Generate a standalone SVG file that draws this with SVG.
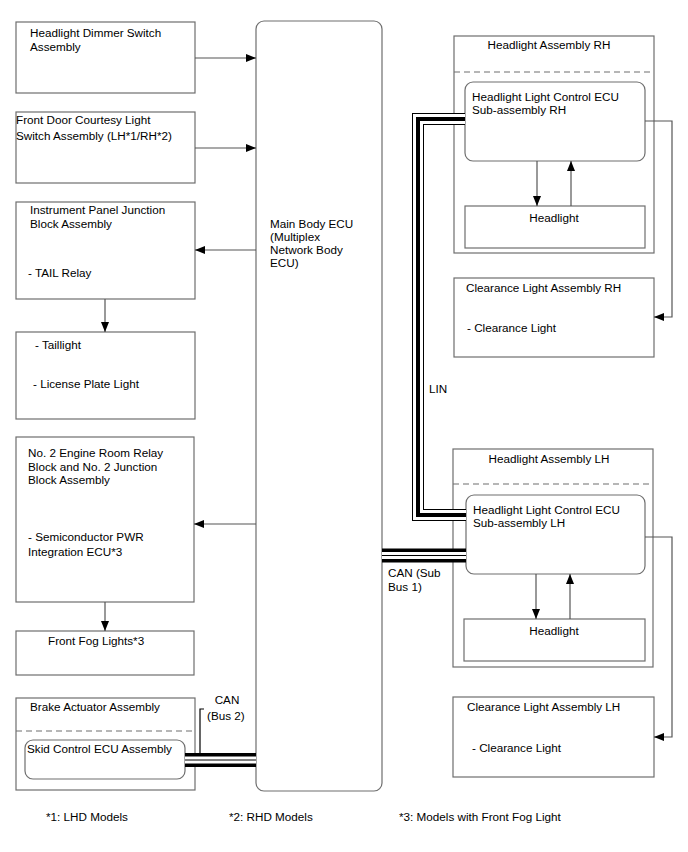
<svg xmlns="http://www.w3.org/2000/svg" width="688" height="852" viewBox="0 0 688 852">
<defs>
<marker id="ah" markerUnits="userSpaceOnUse" markerWidth="10" markerHeight="8" refX="10" refY="4" orient="auto">
<path d="M0,0 L10,4 L0,8 z" fill="#000"/>
</marker>
<style>
text{font-family:"Liberation Sans",Arial,sans-serif;font-size:11.7px;fill:#000}
.c{text-anchor:middle}
.box{fill:#fff;stroke:#6e6e6e;stroke-width:1.2}
.dash{fill:none;stroke:#6e6e6e;stroke-width:1.2;stroke-dasharray:6,4}
.ln{fill:none;stroke:#555;stroke-width:1.2}
.arr{fill:none;stroke:#555;stroke-width:1.2;marker-end:url(#ah)}
.bk{fill:none;stroke:#000}
.wh{fill:none;stroke:#fff}
</style>
</defs>
<rect width="688" height="852" fill="#fff"/>

<g id="dimmer"><rect class="box" x="16" y="22" width="179" height="71"/><text x="30" y="37">Headlight Dimmer Switch</text><text x="30" y="51">Assembly</text></g>
<g id="courtesy"><rect class="box" x="16" y="112" width="179" height="71"/><text x="16" y="124">Front Door Courtesy Light</text><text x="16" y="140">Switch Assembly (LH*1/RH*2)</text></g>
<g id="ipjb"><rect class="box" x="16" y="202" width="179" height="97"/><text x="30" y="214">Instrument Panel Junction</text><text x="30" y="228">Block Assembly</text><text x="28" y="277">- TAIL Relay</text></g>
<g id="taillight"><rect class="box" x="16" y="332" width="179" height="87"/><text x="35" y="349">- Taillight</text><text x="33" y="388">- License Plate Light</text></g>
<g id="no2relay"><rect class="box" x="16" y="437" width="178" height="165"/><text x="28" y="457">No. 2 Engine Room Relay</text><text x="28" y="471">Block and No. 2 Junction</text><text x="28" y="484">Block Assembly</text><text x="28" y="541">- Semiconductor PWR</text><text x="28" y="556">Integration ECU*3</text></g>
<g id="foglights"><rect class="box" x="16" y="631" width="178" height="44"/><text x="48" y="645">Front Fog Lights*3</text></g>
<g id="brake"><rect class="box" x="16" y="698" width="179" height="92"/><line class="dash" x1="16" y1="731" x2="195" y2="731"/><text x="30" y="711">Brake Actuator Assembly</text>
<g id="skid"><rect class="box" x="25" y="740" width="160" height="39" rx="8"/><text x="27" y="753">Skid Control ECU Assembly</text></g></g>

<g id="mainecu"><rect class="box" x="256" y="21" width="126" height="770" rx="8"/><text x="270" y="228">Main Body ECU</text><text x="270" y="241">(Multiplex</text><text x="270" y="254">Network Body</text><text x="270" y="267">ECU)</text></g>

<g id="hlrh"><rect class="box" x="454" y="36" width="200" height="217"/><line class="dash" x1="454" y1="72" x2="654" y2="72"/><text class="c" x="549" y="49">Headlight Assembly RH</text>
<g id="ecurh"><rect class="box" x="465" y="82" width="180" height="79" rx="8"/><text x="472" y="101">Headlight Light Control ECU</text><text x="472" y="114">Sub-assembly RH</text></g>
<g id="headrh"><rect class="box" x="465" y="206" width="180" height="42"/><text class="c" x="554" y="222">Headlight</text></g></g>
<g id="clrh"><rect class="box" x="454" y="278" width="200" height="79"/><text x="466" y="292">Clearance Light Assembly RH</text><text x="467" y="332">- Clearance Light</text></g>

<g id="hllh"><rect class="box" x="453" y="449" width="200" height="218"/><line class="dash" x1="453" y1="484" x2="653" y2="484"/><text class="c" x="549" y="463">Headlight Assembly LH</text>
<g id="eculh"><rect class="box" x="466" y="495" width="179" height="79" rx="8"/><text x="473" y="514">Headlight Light Control ECU</text><text x="473" y="527">Sub-assembly LH</text></g>
<g id="headlh"><rect class="box" x="464" y="619" width="181" height="42"/><text class="c" x="554" y="635">Headlight</text></g></g>
<g id="cllh"><rect class="box" x="453" y="697" width="201" height="80"/><text x="467" y="711">Clearance Light Assembly LH</text><text x="472" y="752">- Clearance Light</text></g>

<g id="connectors">
<line class="arr" x1="195" y1="58" x2="256" y2="58"/>
<line class="arr" x1="195" y1="148" x2="256" y2="148"/>
<line class="arr" x1="256" y1="250" x2="195" y2="250"/>
<line class="arr" x1="105" y1="299" x2="105" y2="332"/>
<line class="arr" x1="256" y1="524" x2="194" y2="524"/>
<line class="arr" x1="105" y1="602" x2="105" y2="631"/>
<line class="arr" x1="537" y1="161" x2="537" y2="206"/>
<line class="arr" x1="571" y1="206" x2="571" y2="161"/>
<line class="arr" x1="536" y1="574" x2="536" y2="619"/>
<line class="arr" x1="570" y1="619" x2="570" y2="574"/>
<polyline class="arr" points="645,121 672,121 672,317 654,317"/>
<polyline class="arr" points="645,537 672,537 672,737 654,737"/>
<g id="lin">
<polyline class="bk" stroke-width="12" points="465,119 418,119 418,515 466,515"/>
<polyline class="wh" stroke-width="10" points="465,119 418,119 418,515 466,515"/>
<polyline class="bk" stroke-width="4" points="465,119 418,119 418,515 466,515"/>
</g>
<g id="can1">
<line class="bk" stroke-width="14" x1="382" y1="555.5" x2="466" y2="555.5"/>
<line class="wh" stroke-width="7" x1="382" y1="555.5" x2="466" y2="555.5"/>
<line class="bk" stroke-width="1" x1="382" y1="555.5" x2="466" y2="555.5"/>
</g>
<g id="can2">
<line class="bk" stroke-width="14" x1="185" y1="760" x2="256" y2="760"/>
<line class="wh" stroke-width="7" x1="185" y1="760" x2="256" y2="760"/>
<line class="bk" stroke-width="1" x1="185" y1="760" x2="256" y2="760"/>
</g>
<polyline class="bk" stroke-width="1.2" points="200,753 200,709 204,709"/>
</g>

<g id="labels">
<text x="429" y="393">LIN</text>
<text x="388" y="577">CAN (Sub</text>
<text x="388" y="591">Bus 1)</text>
<text class="c" x="227" y="704">CAN</text>
<text x="207" y="720">(Bus 2)</text>
<text x="46" y="821">*1: LHD Models</text>
<text x="229" y="821">*2: RHD Models</text>
<text x="399" y="821">*3: Models with Front Fog Light</text>
</g>
</svg>
